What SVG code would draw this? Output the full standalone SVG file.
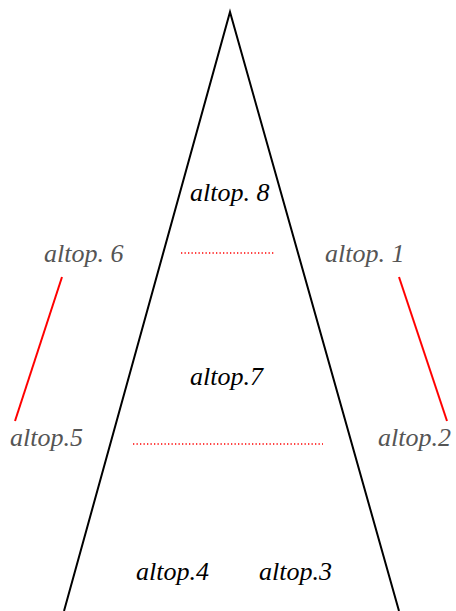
<svg xmlns="http://www.w3.org/2000/svg" width="456" height="611" viewBox="0 0 456 611">
<style>
text{font-family:'Liberation Serif','Times New Roman',Times,serif;font-style:italic;font-size:26px}
.k{fill:#000}
.g{fill:#555}
.red{stroke:#f00;stroke-width:2;fill:none}
.dot{stroke:#f00;stroke-width:1.3;stroke-dasharray:1.3 2.2;fill:none}
</style>
<rect width="456" height="611" fill="#fff"/>
<g id="triangle"><polyline points="64,611 230,12 399,611" fill="none" stroke="#000" stroke-width="2"/></g>
<g id="connectors">
<line class="red" x1="62" y1="277" x2="15" y2="421"/>
<line class="red" x1="399" y1="277" x2="447" y2="421"/>
<line class="dot" x1="181" y1="253" x2="275" y2="253"/>
<line class="dot" x1="133" y1="444" x2="323" y2="444"/>
</g>
<g id="n8"><text class="k" x="190" y="201">altop. 8</text></g>
<g id="n6"><text class="g" x="44" y="262">altop. 6</text></g>
<g id="n1"><text class="g" x="325" y="262">altop. 1</text></g>
<g id="n7"><text class="k" x="190" y="385">altop.7</text></g>
<g id="n5"><text class="g" x="10" y="446">altop.5</text></g>
<g id="n2"><text class="g" x="378" y="446">altop.2</text></g>
<g id="n4"><text class="k" x="136" y="580">altop.4</text></g>
<g id="n3"><text class="k" x="259" y="580">altop.3</text></g>
</svg>
